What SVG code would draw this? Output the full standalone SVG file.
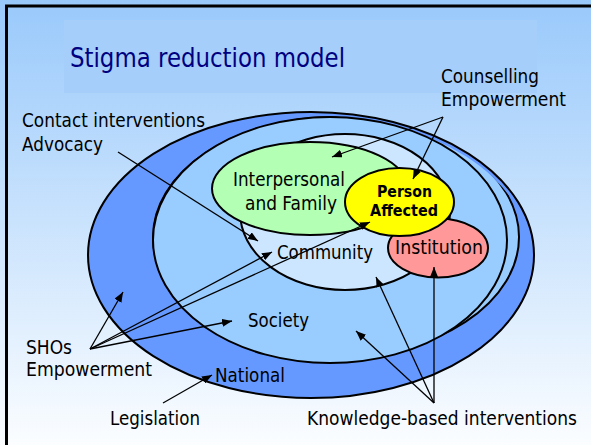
<svg xmlns="http://www.w3.org/2000/svg" width="591" height="445" viewBox="0 0 591 445">
<defs>
  <linearGradient id="bg" x1="0" y1="0" x2="0" y2="1">
    <stop offset="0" stop-color="#99c9fb"/>
    <stop offset="1" stop-color="#fbfdff"/>
  </linearGradient>
  <marker id="ah" viewBox="0 0 10 8" refX="10" refY="4" markerWidth="10" markerHeight="8" markerUnits="userSpaceOnUse" orient="auto">
    <path d="M0,0 L10,4 L0,8 z" fill="#000"/>
  </marker>
  <clipPath id="nclip"><ellipse cx="311" cy="255" rx="219" ry="139.5"/></clipPath>
  <style>
    .t{font-family:"DejaVu Sans",Verdana,sans-serif;font-size:19.5px;fill:#000}
    .b{font-family:"DejaVu Sans",Verdana,sans-serif;font-size:16px;font-weight:bold;fill:#000}
    .ttl{font-family:"DejaVu Sans",Verdana,sans-serif;font-size:27px;fill:#000080}
    .ring{stroke:#000;stroke-width:2}
    #connectors line{stroke:#000;stroke-width:1.3;marker-end:url(#ah)}
  </style>
</defs>
<rect width="591" height="445" fill="url(#bg)"/>
<rect x="64" y="20" width="473" height="73" fill="#a6cefb"/>
<rect x="6.5" y="6" width="620" height="470" fill="none" stroke="#000" stroke-width="3"/>
<text class="ttl" x="70" y="67" textLength="275" lengthAdjust="spacingAndGlyphs">Stigma reduction model</text>

<g id="national">
  <ellipse class="ring" cx="311" cy="255" rx="223" ry="143" fill="#6699ff"/>
  <ellipse class="ring" cx="336" cy="237" rx="183" ry="120" fill="#99ccff" clip-path="url(#nclip)"/>
  <text class="t" x="215" y="382" textLength="70" lengthAdjust="spacingAndGlyphs">National</text>
</g>
<g id="society">
  <ellipse class="ring" cx="330" cy="240" rx="177" ry="123" fill="#99ccff"/>
  <text class="t" x="248" y="327" textLength="61" lengthAdjust="spacingAndGlyphs">Society</text>
</g>
<g id="community">
  <ellipse class="ring" cx="345" cy="212" rx="105" ry="78" fill="#cce6ff"/>
  <text class="t" x="277" y="259" textLength="96" lengthAdjust="spacingAndGlyphs">Community</text>
</g>
<g id="interpersonal">
  <ellipse class="ring" cx="310" cy="188.5" rx="98" ry="46.5" fill="#b3ffb3"/>
  <text class="t" x="233" y="186" textLength="112" lengthAdjust="spacingAndGlyphs">Interpersonal</text>
  <text class="t" x="245" y="210" textLength="92" lengthAdjust="spacingAndGlyphs">and Family</text>
</g>
<g id="institution">
  <ellipse class="ring" cx="438" cy="248" rx="50" ry="29.5" fill="#ff9999"/>
  <text class="t" x="395" y="254" textLength="88" lengthAdjust="spacingAndGlyphs">Institution</text>
</g>
<g id="person">
  <ellipse class="ring" cx="399.5" cy="202" rx="54.5" ry="34" fill="#ffff00"/>
  <text class="b" x="377" y="197" textLength="55" lengthAdjust="spacingAndGlyphs">Person</text>
  <text class="b" x="370" y="215.5" textLength="68" lengthAdjust="spacingAndGlyphs">Affected</text>
</g>

<g id="labels">
  <text class="t" x="441" y="83" textLength="98" lengthAdjust="spacingAndGlyphs">Counselling</text>
  <text class="t" x="441" y="106" textLength="125" lengthAdjust="spacingAndGlyphs">Empowerment</text>
  <text class="t" x="22" y="127" textLength="183" lengthAdjust="spacingAndGlyphs">Contact interventions</text>
  <text class="t" x="22" y="151" textLength="81" lengthAdjust="spacingAndGlyphs">Advocacy</text>
  <text class="t" x="26" y="354" textLength="46" lengthAdjust="spacingAndGlyphs">SHOs</text>
  <text class="t" x="26" y="376" textLength="126" lengthAdjust="spacingAndGlyphs">Empowerment</text>
  <text class="t" x="110" y="425" textLength="90" lengthAdjust="spacingAndGlyphs">Legislation</text>
  <text class="t" x="307" y="425" textLength="270" lengthAdjust="spacingAndGlyphs">Knowledge-based interventions</text>
</g>

<g id="connectors">
  <line x1="118" y1="152" x2="258" y2="241"/>
  <line x1="443" y1="117" x2="332" y2="157"/>
  <line x1="443" y1="117" x2="413" y2="179"/>
  <line x1="90" y1="349" x2="123" y2="292"/>
  <line x1="90" y1="349" x2="272" y2="252"/>
  <line x1="90" y1="349" x2="370" y2="222"/>
  <line x1="90" y1="349" x2="232" y2="321"/>
  <line x1="163" y1="403" x2="212" y2="375"/>
  <line x1="434" y1="403" x2="356" y2="331"/>
  <line x1="434" y1="403" x2="376" y2="277"/>
  <line x1="434" y1="403" x2="434" y2="267"/>
</g>
</svg>
